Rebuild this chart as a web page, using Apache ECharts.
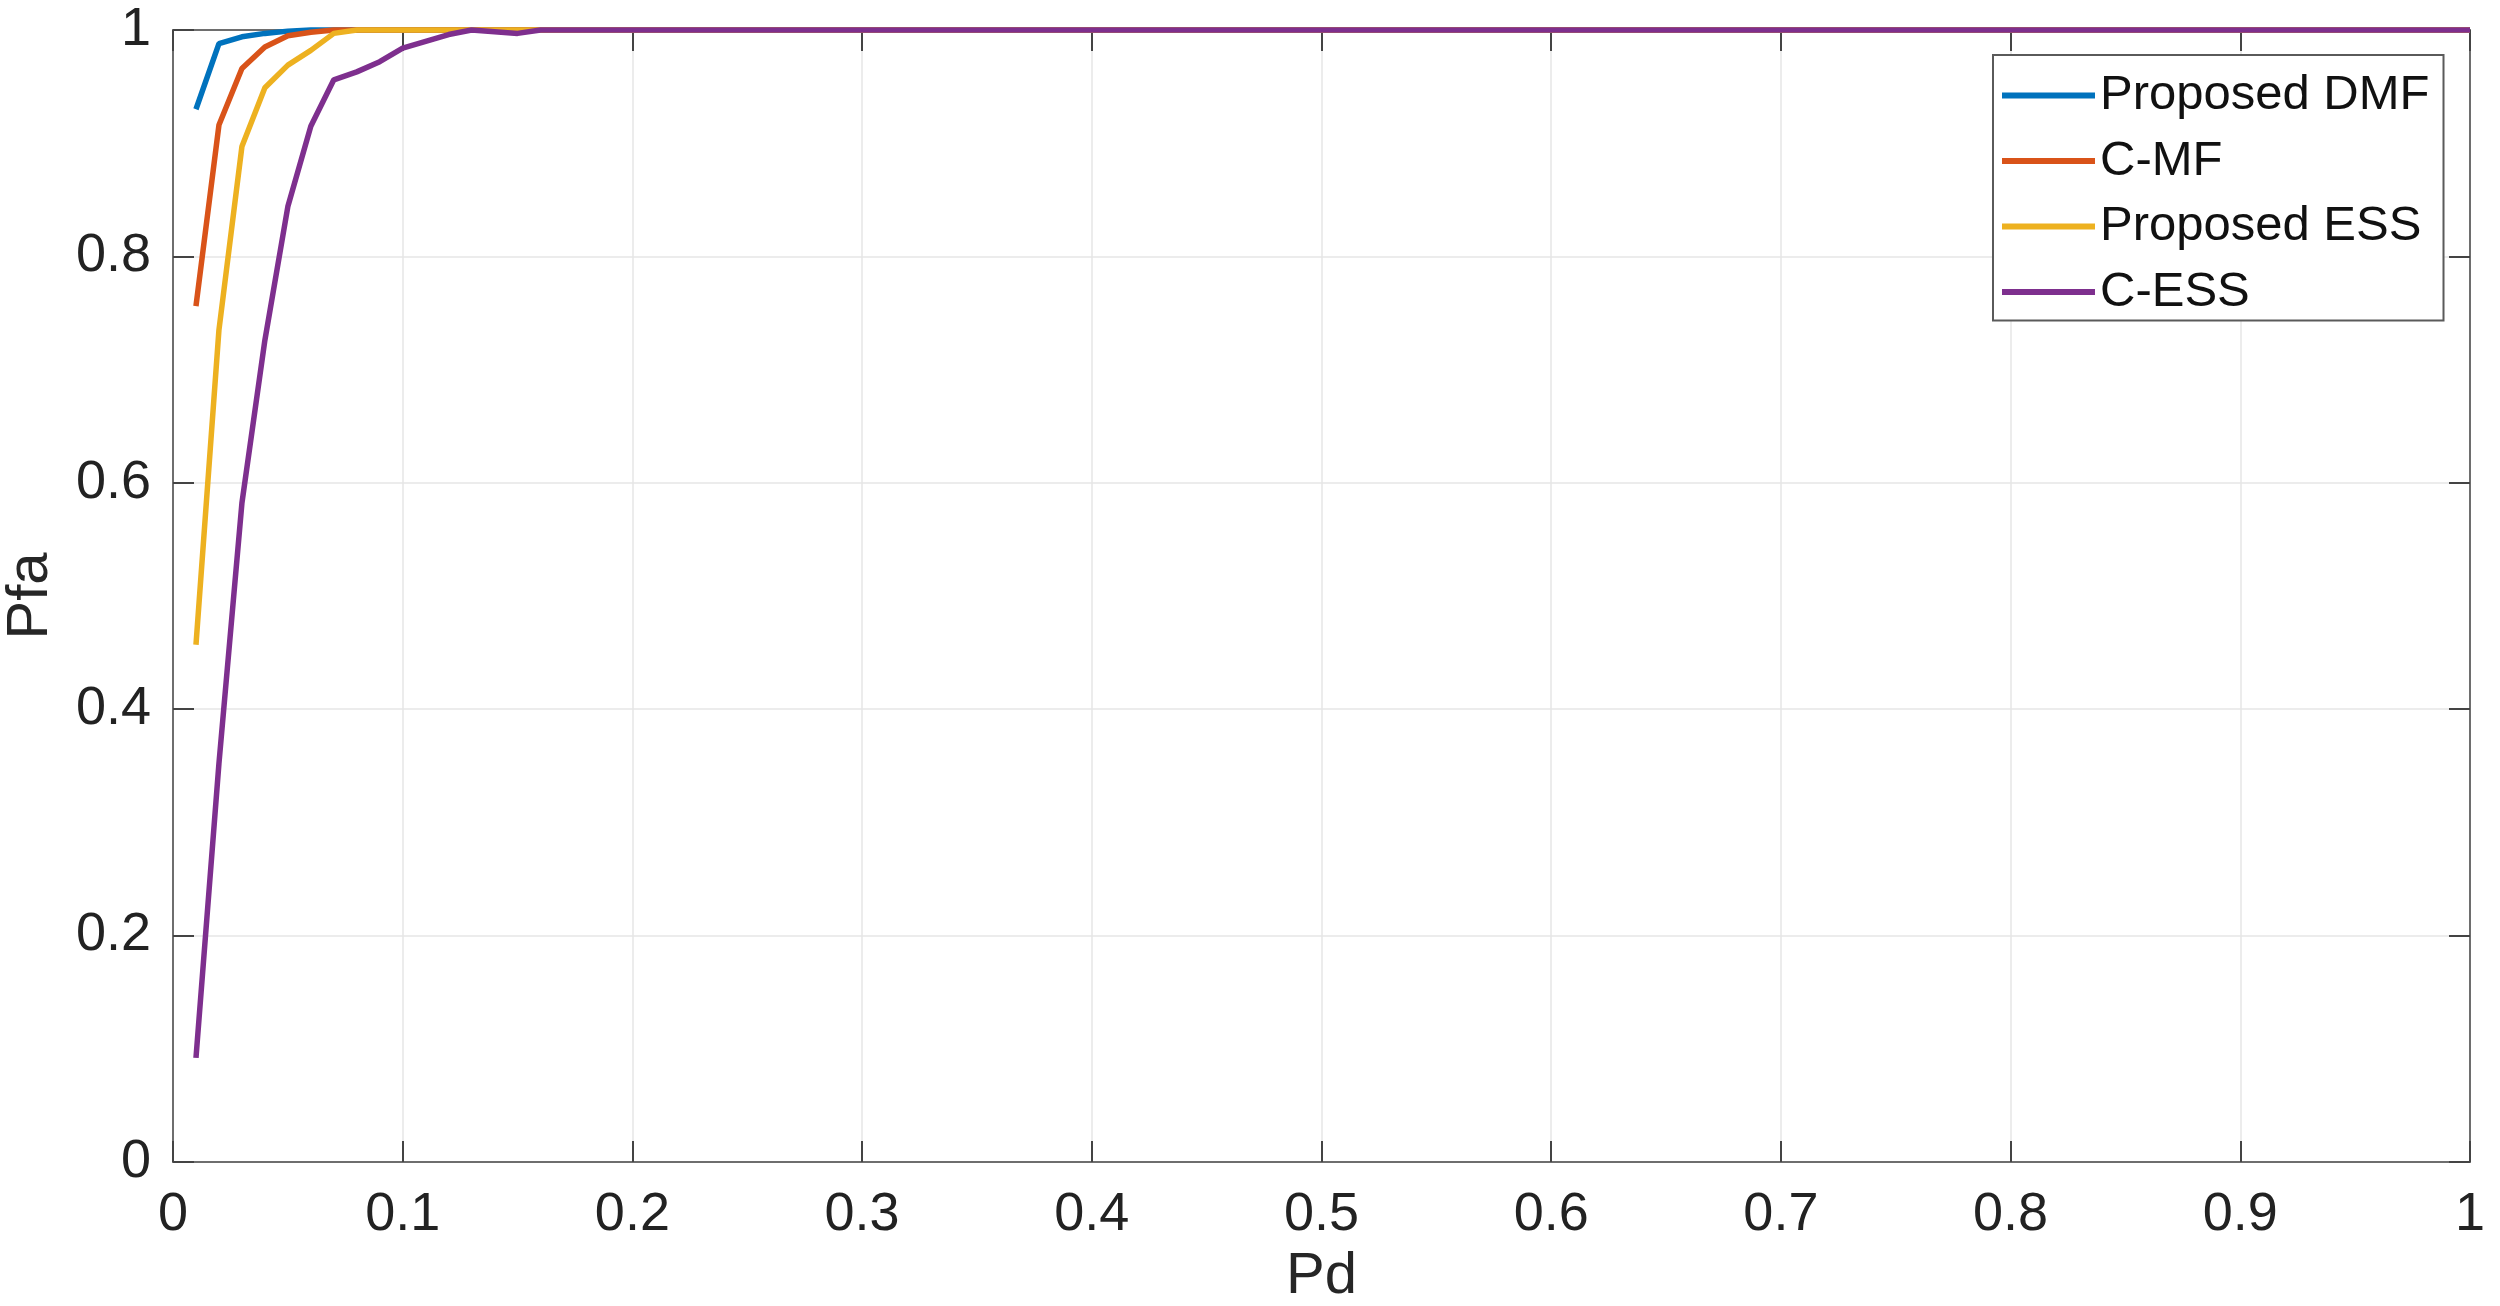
<!DOCTYPE html>
<html>
<head>
<meta charset="utf-8">
<script src="https://cdn.jsdelivr.net/npm/echarts@6/dist/echarts.min.js"></script>
<style>
  html, body { margin: 0; padding: 0; background: #fff; }
  #chart { width: 2500px; height: 1306px; }
</style>
</head>
<body>
<div id="chart"></div>
<script>
// Pd values (x) and Pfa curves
var pd = [0.01, 0.02, 0.03, 0.04, 0.05, 0.06, 0.07, 0.08, 0.09, 0.10, 0.11, 0.12, 0.13,
          0.14, 0.15, 0.16, 0.2, 0.3, 0.4, 0.5, 0.6, 0.7, 0.8, 0.9, 1.0];
var proposedDMF = [0.930, 0.988, 0.994, 0.997, 0.999, 1, 1, 1, 1, 1, 1, 1, 1,
                   1, 1, 1, 1, 1, 1, 1, 1, 1, 1, 1, 1];
var cMF = [0.756, 0.916, 0.966, 0.985, 0.995, 0.998, 1, 1, 1, 1, 1, 1, 1,
           1, 1, 1, 1, 1, 1, 1, 1, 1, 1, 1, 1];
var proposedESS = [0.457, 0.735, 0.897, 0.949, 0.969, 0.982, 0.997, 1, 1, 1, 1, 1, 1,
                   1, 1, 1, 1, 1, 1, 1, 1, 1, 1, 1, 1];
var cESS = [0.092, 0.352, 0.582, 0.726, 0.844, 0.915, 0.956, 0.963, 0.972, 0.984, 0.990, 0.996, 1.0,
            0.9985, 0.997, 1, 1, 1, 1, 1, 1, 1, 1, 1, 1];

var seriesNames = ['Proposed DMF', 'C-MF', 'Proposed ESS', 'C-ESS'];
var seriesColors = ['#0072BD', '#D95319', '#EDB120', '#7E2F8E'];
var seriesValues = [proposedDMF, cMF, proposedESS, cESS];

var FONT = '"Liberation Sans", Arial, Helvetica, sans-serif';
var AXIS_COLOR = '#6e6e6e';
var GRID_COLOR = '#e6e6e6';

function pairs(ys) {
    return pd.map(function (x, i) { return [x, ys[i]]; });
}

var chart = echarts.init(document.getElementById('chart'));

var series = seriesNames.map(function (name, i) {
    return {
        name: name,
        type: 'line',
        data: pairs(seriesValues[i]),
        symbol: 'none',
        clip: false,
        animation: false,
        lineStyle: { color: seriesColors[i], width: 5.5 },
        itemStyle: { color: seriesColors[i] }
    };
});

// box axes (top / right) with inside ticks, no labels
function boxAxis(pos, interval) {
    return {
        type: 'value', position: pos, min: 0, max: 1, interval: interval,
        axisLine: { show: true, onZero: false, lineStyle: { color: AXIS_COLOR, width: 2 } },
        axisTick: { show: true, inside: true, length: 21, lineStyle: { color: '#444', width: 2 } },
        axisLabel: { show: false },
        splitLine: { show: false }
    };
}

var option = {
    backgroundColor: '#fff',
    animation: false,
    grid: { left: 173, right: 30, top: 30, bottom: 144, containLabel: false, outerBoundsMode: 'none' },
    legend: {
        orient: 'vertical',
        left: 1993,
        top: 55,
        padding: [16, 14, 4, 9],
        itemGap: 16.5,
        itemWidth: 93,
        itemHeight: 6,
        icon: 'rect',
        backgroundColor: '#fff',
        borderColor: '#5a5a5a',
        borderWidth: 2,
        borderRadius: 0,
        data: seriesNames,
        textStyle: { fontFamily: FONT, fontSize: 49, color: '#111', lineHeight: 47 }
    },
    xAxis: [{
        type: 'value', min: 0, max: 1, interval: 0.1,
        name: 'Pd', nameLocation: 'middle', nameGap: 86,
        nameTextStyle: { fontFamily: FONT, fontSize: 58, color: '#262626' },
        axisLine: { show: true, onZero: false, lineStyle: { color: AXIS_COLOR, width: 2 } },
        axisTick: { show: true, inside: true, length: 21, lineStyle: { color: '#444', width: 2 } },
        axisLabel: { fontFamily: FONT, fontSize: 54, color: '#222', margin: 26,
                     showMinLabel: true, showMaxLabel: true },
        splitLine: { show: true, lineStyle: { color: GRID_COLOR, width: 1.5 } }
    }, boxAxis('top', 0.1)],
    yAxis: [{
        type: 'value', min: 0, max: 1, interval: 0.2,
        name: 'Pfa', nameLocation: 'middle', nameGap: 113,
        nameTextStyle: { fontFamily: FONT, fontSize: 58, color: '#262626' },
        axisLine: { show: true, onZero: false, lineStyle: { color: AXIS_COLOR, width: 2 } },
        axisTick: { show: true, inside: true, length: 21, lineStyle: { color: '#444', width: 2 } },
        axisLabel: { fontFamily: FONT, fontSize: 54, color: '#222', margin: 22,
                     showMinLabel: true, showMaxLabel: true },
        splitLine: { show: true, lineStyle: { color: GRID_COLOR, width: 1.5 } }
    }, boxAxis('right', 0.2)],
    series: series
};

chart.setOption(option);
</script>
</body>
</html>
